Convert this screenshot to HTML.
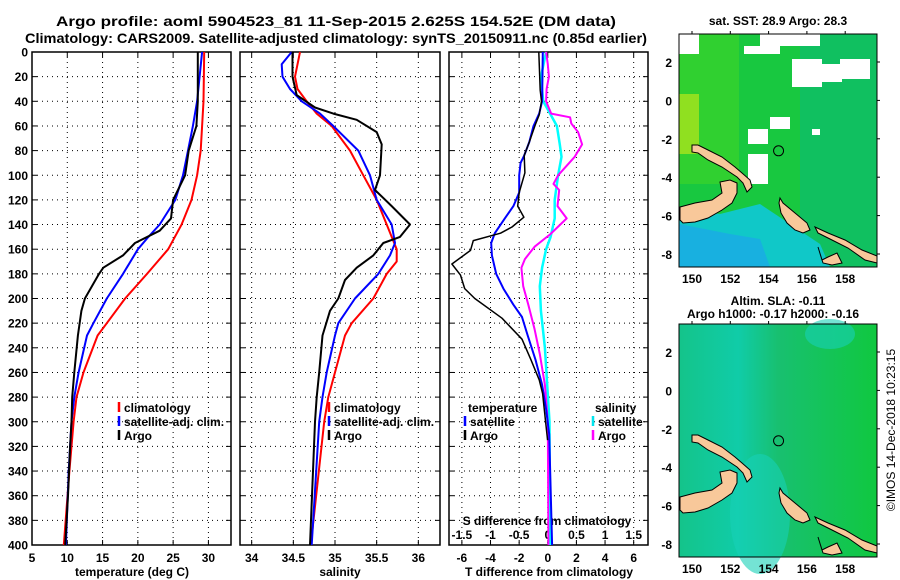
<!DOCTYPE html>
<html><head><meta charset="utf-8">
<style>
html,body{margin:0;padding:0;background:#fff;}
svg{display:block;font-family:"Liberation Sans",sans-serif;font-weight:bold;}
</style></head>
<body>
<svg id="fig" width="900" height="580" viewBox="0 0 900 580" xmlns="http://www.w3.org/2000/svg">
<text x="336" y="26" font-size="14" text-anchor="middle" textLength="560" lengthAdjust="spacingAndGlyphs">Argo profile: aoml 5904523_81 11-Sep-2015 2.625S 154.52E (DM data)</text>
<text x="336" y="43" font-size="14" text-anchor="middle" textLength="622" lengthAdjust="spacingAndGlyphs">Climatology: CARS2009. Satellite-adjusted climatology: synTS_20150911.nc (0.85d earlier)</text>
<g id="layer"></g>
</svg>
<script>
// ---------- data ----------
const depthTicks=[0,20,40,60,80,100,120,140,160,180,200,220,240,260,280,300,320,340,360,380,400];
const tempTicks=[5,10,15,20,25,30];
const salTicks=[34,34.5,35,35.5,36];
const tdiffTicks=[-6,-4,-2,0,2,4,6];
const sdiffTickLabels=['-1.5','-1','-0.5','0','0.5','1','1.5'];
const sdiffTicks=[-1.5,-1,-0.5,0,0.5,1,1.5];

const tArgoD=[0,40,60,80,100,120,135,145,155,165,175,180,200,210,230,260,280,300,320,360,400];
const tArgoV=[28.5,28.5,28.3,27.2,26.7,25.0,24.7,23.1,19.6,17.9,15.1,14.5,12.5,12.0,11.5,11.0,10.7,10.6,10.4,10.1,9.7];
const tSatD=[0,40,60,80,100,120,140,150,160,180,200,220,230,260,280,300,340,400];
const tSatV=[29.1,28.4,27.8,27.1,26.4,25.3,23.1,21.5,20.0,17.9,15.6,13.7,12.8,11.6,11.0,10.6,10.2,9.8];
const tClimD=[0,40,60,80,100,120,140,160,180,200,220,230,260,280,300,340,400];
const tClimV=[29.4,29.3,29.1,28.9,28.4,27.6,26.2,24.3,21.3,18.2,15.6,14.3,12.3,11.3,10.9,10.3,9.5];

const sArgoD=[0,20,35,45,50,55,65,75,100,112,125,140,150,155,165,175,185,200,210,230,260,280,300,400];
const sArgoV=[34.49,34.49,34.54,34.76,34.98,35.26,35.50,35.56,35.54,35.48,35.68,35.90,35.78,35.58,35.46,35.26,35.12,35.04,34.94,34.85,34.81,34.78,34.76,34.70];
const sSatD=[0,10,20,30,40,50,60,80,100,120,140,155,165,180,200,220,230,260,280,300,400];
const sSatV=[34.48,34.36,34.37,34.46,34.60,34.82,34.98,35.28,35.42,35.50,35.68,35.72,35.66,35.52,35.24,35.04,35.00,34.90,34.85,34.81,34.72];
const sClimD=[0,20,30,40,50,60,80,100,120,140,160,170,180,200,220,230,260,280,300,400];
const sClimV=[34.58,34.52,34.55,34.66,34.78,34.96,35.18,35.34,35.50,35.62,35.74,35.74,35.62,35.46,35.20,35.12,35.00,34.92,34.87,34.71];

const dtArgoD=[0,31,40,51,59,73,84,98,114,125,134,142,147,153,161,172,181,192,200,216,233,249,266,277,300,315];
const dtArgoV=[-0.63,-0.53,-0.44,-0.6,-0.87,-1.29,-1.65,-1.6,-2.0,-2.1,-1.67,-2.5,-3.3,-5.2,-5.4,-6.7,-6.1,-5.8,-5.1,-3.2,-1.8,-1.2,-0.6,-0.36,-0.15,-0.01];
const dtSatD=[0,40,50,60,73,84,90,100,114,125,135,147,155,165,180,192,205,215,230,250,270,290,310,400];
const dtSatV=[-0.35,-0.4,-0.6,-1.0,-1.29,-1.65,-1.9,-2.0,-2.0,-2.4,-3.0,-3.7,-3.95,-3.9,-3.6,-3.1,-2.4,-1.8,-1.4,-0.85,-0.4,-0.12,0.1,0.3];
const dsSatD=[0,20,40,50,60,75,85,100,120,135,150,160,175,190,210,240,270,300,400];
const dsSatV=[-0.03,-0.12,-0.08,0.04,0.16,0.21,0.24,0.18,0.12,0.12,0.05,-0.03,-0.1,-0.14,-0.12,-0.05,-0.01,0.03,0.04];
const dsArgoD=[0,10,20,30,40,50,53,58,65,75,85,100,107,112,125,135,148,158,168,175,190,205,225,245,270,300,400];
const dsArgoV=[-0.03,0.0,0.02,-0.02,-0.03,0.06,0.39,0.41,0.53,0.6,0.47,0.18,0.1,0.2,0.17,0.33,0.04,-0.23,-0.4,-0.46,-0.43,-0.34,-0.23,-0.14,-0.05,0.0,0.01];

const lonTicks=[150,152,154,156,158];
const latTicks=[2,0,-2,-4,-6,-8];
const argoLon=154.52, argoLat=-2.625;
// ---------- helpers ----------
const NS='http://www.w3.org/2000/svg';
const layer=document.getElementById('layer');
function mk(tag,attrs,parent){const e=document.createElementNS(NS,tag);for(const k in attrs)e.setAttribute(k,attrs[k]);(parent||layer).appendChild(e);return e;}
const Y0=52, Y1=545;
const yD=d=>Y0+(d/400)*(Y1-Y0);
const P1={l:32,r:231,v0:5,v1:33.2};
const P2={l:240,r:440,v0:33.86,v1:36.26};
const P3={l:449,r:648,v0:-6.9,v1:7.0};
const P3s={v0:-1.725,v1:1.75};
const xv=(p,v)=>p.l+(v-p.v0)/(p.v1-p.v0)*(p.r-p.l);

function panel(p,name,gridVals,ylabels){
  const g=mk('g',{});
  
  
  depthTicks.forEach(d=>{
    if(d>0&&d<400){const l=mk('line',{x1:p.l,x2:p.r,y1:yD(d),y2:yD(d),stroke:'#000','stroke-width':1,'stroke-dasharray':'1,4'},g);
    }
    mk('line',{x1:p.l,x2:p.l+5,y1:yD(d),y2:yD(d),stroke:'#000'},g);
    mk('line',{x1:p.r-5,x2:p.r,y1:yD(d),y2:yD(d),stroke:'#000'},g);
    if(ylabels){const t=mk('text',{x:28,y:yD(d)+4.5,'font-size':12,'text-anchor':'end'},g);t.textContent=d;
      }
  });
  gridVals.forEach(v=>{const x=xv(p,v);
    if(x>p.l+2&&x<p.r-2){const l=mk('line',{x1:x,x2:x,y1:Y0,y2:Y1,stroke:'#000','stroke-dasharray':'1,4'},g);
    }
    mk('line',{x1:x,x2:x,y1:Y1-5,y2:Y1,stroke:'#000'},g);
    mk('line',{x1:x,x2:x,y1:Y0,y2:Y0+5,stroke:'#000'},g);
  });
  const fr=mk('rect',{x:p.l,y:Y0,width:p.r-p.l,height:Y1-Y0,fill:'none',stroke:'#000','stroke-width':1.5},g);
  
  return g;
}
function line(p,vals,deps,color,w,name,scale){
  const sc=scale||p;
  const pts=vals.map((v,i)=>(p.l+(v-sc.v0)/(sc.v1-sc.v0)*(p.r-p.l)).toFixed(1)+','+yD(deps[i]).toFixed(1)).join(' ');
  const e=mk('polyline',{points:pts,fill:'none',stroke:color,'stroke-width':w,'stroke-linejoin':'round'});
  
  
}
function txt(x,y,s,size,anchor,name,color){
  const t=mk('text',{x:x,y:y,'font-size':size,'text-anchor':anchor||'start',fill:color||'#000'});
  t.textContent=s;
  
  
  return t;
}
function legendItem(x,y,color,label,name){
  const g=mk('g',{});
  
  
  mk('line',{x1:x,x2:x,y1:y-10,y2:y,stroke:color,'stroke-width':2.5},g);
  const t=mk('text',{x:x+5,y:y,'font-size':12},g);t.textContent=label;
}
// ---------- panel 1: temperature ----------
panel(P1,'temperature-panel',tempTicks,true);
tempTicks.forEach(v=>txt(xv(P1,v),562,String(v),12,'middle','x-tick-label'));
txt(132,576,'temperature (deg C)',12,'middle','x-axis-title');
line(P1,tClimV,tClimD,'#ff0000',2,'temp-climatology-line');
line(P1,tSatV,tSatD,'#0000ff',2,'temp-satellite-line');
line(P1,tArgoV,tArgoD,'#000',2,'temp-argo-line');
legendItem(119,412,'#ff0000','climatology','legend-climatology');
legendItem(119,426,'#0000ff','satellite-adj. clim.','legend-satellite-adj');
legendItem(119,440,'#000','Argo','legend-argo');
// ---------- panel 2: salinity ----------
panel(P2,'salinity-panel',salTicks,false);
salTicks.forEach(v=>txt(xv(P2,v),562,String(v),12,'middle','x-tick-label'));
txt(340,576,'salinity',12,'middle','x-axis-title');
line(P2,sClimV,sClimD,'#ff0000',2,'sal-climatology-line');
line(P2,sSatV,sSatD,'#0000ff',2,'sal-satellite-line');
line(P2,sArgoV,sArgoD,'#000',2,'sal-argo-line');
legendItem(329,412,'#ff0000','climatology','legend-climatology');
legendItem(329,426,'#0000ff','satellite-adj. clim.','legend-satellite-adj');
legendItem(329,440,'#000','Argo','legend-argo');
// ---------- panel 3: differences ----------
panel(P3,'difference-panel',tdiffTicks,false);
tdiffTicks.forEach(v=>txt(xv(P3,v),562,String(v),12,'middle','t-diff-tick-label'));
txt(549,576,'T difference from climatology',12,'middle','t-diff-axis-title');
sdiffTicks.forEach((v,i)=>txt(P3.l+(v-P3s.v0)/(P3s.v1-P3s.v0)*(P3.r-P3.l),539,sdiffTickLabels[i],12,'middle','s-diff-tick-label'));
txt(547,525,'S difference from climatology',12,'middle','s-diff-axis-title');
line(P3,dsSatV,dsSatD,'#00ffff',2.5,'sdiff-satellite-line',P3s);
line(P3,dsArgoV,dsArgoD,'#ff00ff',2,'sdiff-argo-line',P3s);
line(P3,dtSatV,dtSatD,'#0000ff',2,'tdiff-satellite-line');
line(P3,dtArgoV,dtArgoD,'#000',1.5,'tdiff-argo-line');
txt(468,412,'temperature',12,'start','legend-temperature-heading');
legendItem(465,426,'#0000ff','satellite','legend-t-satellite');
legendItem(465,440,'#000','Argo','legend-t-argo');
txt(595,412,'salinity',12,'start','legend-salinity-heading');
legendItem(593,426,'#00e5ee','satellite','legend-s-satellite');
legendItem(593,440,'#ff00ff','Argo','legend-s-argo');
// ---------- maps ----------
const land=[
 [[680,207],[695,203],[712,200],[722,193],[720,182],[730,180],[737,183],[737,193],[732,203],[722,210],[708,218],[695,222],[683,223],[680,220]],
 [[692,145],[698,145],[708,150],[722,157],[735,167],[742,173],[750,180],[752,187],[747,192],[743,183],[737,177],[722,167],[708,160],[698,153],[692,152]],
 [[780,198],[783,203],[795,213],[807,223],[810,230],[803,233],[795,230],[787,223],[781,213],[779,203]],
 [[815,227],[828,233],[845,240],[862,250],[877,256],[877,263],[865,260],[848,248],[832,240],[818,233]],
 [[818,247],[822,260],[828,257],[837,253],[842,263],[832,265],[823,263]]
];
function map(off,name,kind){
  const g=mk('g',{});
  
  
  const L=679,R=877,T=34+off,B=267+off;
  const xl=lon=>692+(lon-150)*19.15, yl=lat=>62+off+(2-lat)*19.2;
  if(kind==='sst'){
    mk('rect',{x:L,y:T,width:R-L,height:B-T,fill:'#18c840'},g);
    mk('rect',{x:L,y:T,width:60,height:150,fill:'#30d030'},g);
    mk('rect',{x:L,y:T+60,width:20,height:60,fill:'#90e020'},g);
    mk('rect',{x:800,y:T,width:77,height:233,fill:'#10c060'},g);
    mk('polygon',{points:`${L},${B} ${L},${T+175} ${720},${T+180} ${760},${T+170} ${790},${T+190} ${820},${T+210} ${830},${B}`,fill:'#10c8c8'},g);
    mk('polygon',{points:`${L},${B} ${L},${T+190} ${730},${T+200} ${760},${T+205} ${770},${B}`,fill:'#18b0e0'},g);
    [[L,T,20,20],[760,T,60,12],[744,T+12,36,8],[792,T+25,30,28],[822,T+30,20,18],[840,T+25,30,20],[770,T+83,20,12],[748,T+95,20,15],[748,T+120,20,30],[812,T+95,8,6]].forEach(r=>{
      mk('rect',{x:r[0],y:r[1],width:r[2],height:r[3],fill:'#fff'},g);});
  } else {
    const gr=mk('linearGradient',{id:'sla',x1:0,y1:0,x2:1,y2:0},g);
    mk('stop',{offset:'0','stop-color':'#14c48a'},gr);mk('stop',{offset:'0.3','stop-color':'#10cca8'},gr);
    mk('stop',{offset:'0.5','stop-color':'#18c070'},gr);mk('stop',{offset:'1','stop-color':'#10c840'},gr);
    mk('rect',{x:L,y:T,width:R-L,height:B-T,fill:'url(#sla)'},g);
    mk('ellipse',{cx:760,cy:T+190,rx:30,ry:60,fill:'#18d0b8',opacity:0.6},g);
    mk('ellipse',{cx:830,cy:T+10,rx:25,ry:15,fill:'#18d0b8',opacity:0.6},g);
  }
  land.forEach(poly=>{const p=mk('polygon',{points:poly.map(q=>q[0]+','+(q[1]+off)).join(' '),fill:'#f8c89a',stroke:'#000','stroke-width':1},g);
    });
  mk('rect',{x:L,y:T,width:R-L,height:B-T,fill:'none',stroke:'#000'},g);
  const c=mk('circle',{cx:xl(argoLon),cy:yl(argoLat),r:5,fill:'none',stroke:'#000'},g);
  
  lonTicks.forEach(v=>{mk('line',{x1:xl(v),x2:xl(v),y1:T,y2:T-3,stroke:'#000'},g);
    const t=mk('text',{x:xl(v),y:B+16,'font-size':12,'text-anchor':'middle',fill:'#000'},g);t.textContent=v;
    });
  latTicks.forEach(v=>{mk('line',{x1:R,x2:R+3,y1:yl(v),y2:yl(v),stroke:'#000'},g);
    const t=mk('text',{x:672,y:yl(v)+5,'font-size':12,'text-anchor':'end',fill:'#000'},g);t.textContent=v;
    });
}
map(0,'sst-map','sst');
txt(778,25,'sat. SST: 28.9 Argo: 28.3',12,'middle','sst-map-title');
map(290,'sla-map','sla');
txt(778,305,'Altim. SLA: -0.11',12,'middle','sla-map-title-1');
txt(773,318,'Argo h1000: -0.17 h2000: -0.16',12,'middle','sla-map-title-2');
const cr=txt(0,0,'©IMOS 14-Dec-2018 10:23:15',12,'middle','imos-credit');
cr.setAttribute('font-weight','normal');
cr.setAttribute('transform','translate(895,430) rotate(-90)');
</script>
</body></html>
